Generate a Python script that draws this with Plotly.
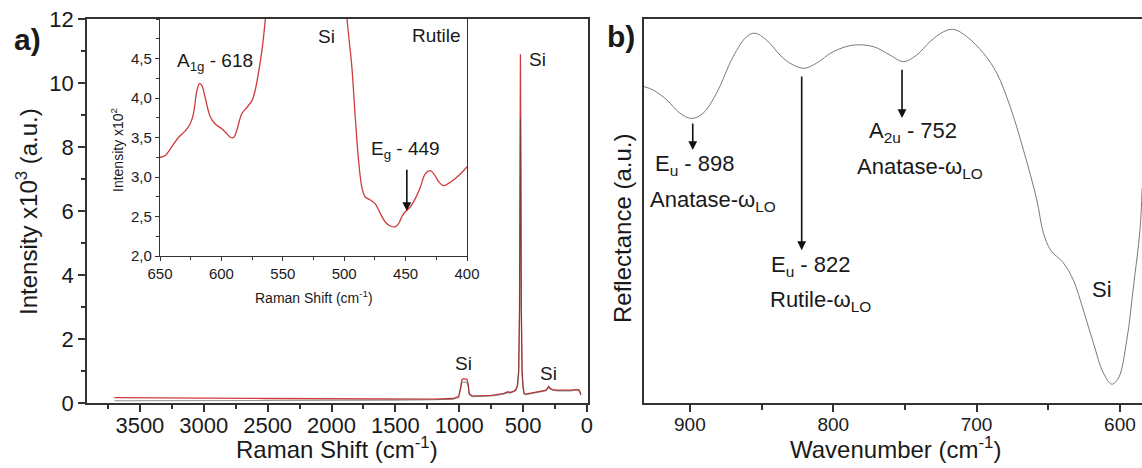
import plotly.graph_objects as go

W, H = 1142, 468
FONT = "Liberation Sans, Arial, sans-serif"
INK = "#1a1a1a"
AXIS = "#333333"

# ---------------- (a) Raman spectrum, full range ----------------
raman_shift = [3700, 3500, 3000, 2500, 2000, 1500, 1200, 1050, 1005, 990, 980, 965, 950, 940,
               930, 922, 900, 850, 750, 700, 650, 620, 600, 580, 560, 545, 535, 528, 524, 521,
               518, 514, 508, 500, 492, 480, 450, 400, 350, 320, 310, 300, 290, 270, 230, 180,
               130, 90, 65, 55, 48]
raman_red = [0.17, 0.16, 0.15, 0.14, 0.13, 0.12, 0.12, 0.14, 0.20, 0.45, 0.72, 0.76, 0.76, 0.74,
             0.60, 0.30, 0.23, 0.22, 0.24, 0.26, 0.30, 0.35, 0.33, 0.36, 0.40, 0.55, 1.0, 3.0, 7.5, 10.9,
             8.0, 3.0, 1.0, 0.50, 0.30, 0.28, 0.30, 0.33, 0.36, 0.40, 0.46, 0.52, 0.47, 0.42, 0.40, 0.39,
             0.40, 0.42, 0.42, 0.35, 0.26]
raman_grey = [0.07, 0.07, 0.07, 0.08, 0.08, 0.09, 0.10, 0.12, 0.17, 0.40, 0.63, 0.66, 0.66, 0.64,
              0.52, 0.26, 0.20, 0.20, 0.22, 0.24, 0.28, 0.33, 0.31, 0.34, 0.38, 0.50, 0.9, 2.6, 6.5, 8.9,
              7.0, 2.6, 0.9, 0.45, 0.28, 0.26, 0.28, 0.31, 0.34, 0.38, 0.44, 0.48, 0.44, 0.40, 0.38, 0.37,
              0.38, 0.40, 0.40, 0.33, 0.24]

# ---------------- inset: zoom 650-400 cm-1 (x10^2) ----------------
inset_shift = [650, 646, 640.5, 635, 629.6, 625.5, 622.8, 620, 618, 616, 613.3, 609, 605, 599.7,
               595.7, 592.4, 590, 587.5, 583.4, 579.3, 575, 572.6, 570, 567, 564.4, 560, 540, 521,
               505, 497.8, 496.5, 493.75, 491, 488.3, 485.6, 483, 478.8, 474.7, 470.6, 466.6, 462.5,
               458.4, 455.7, 453, 450.3, 446.2, 442, 438, 434, 430, 427, 423, 419, 415, 409.5, 404, 400]
inset_int = [3.25, 3.27, 3.38, 3.50, 3.58, 3.67, 3.80, 4.09, 4.18, 4.16, 4.01, 3.76, 3.67, 3.61,
             3.55, 3.50, 3.50, 3.59, 3.80, 3.88, 3.97, 4.09, 4.30, 4.60, 4.97, 5.8, 12.0, 108.0,
             9.0, 5.03, 4.81, 4.39, 3.76, 3.21, 2.87, 2.75, 2.71, 2.66, 2.54, 2.43, 2.38,
             2.37, 2.41, 2.50, 2.56, 2.62, 2.73, 2.87, 3.04, 3.08, 3.04, 2.94, 2.89, 2.92, 2.98, 3.06, 3.13]
inset_yticks = [2.0, 2.5, 3.0, 3.5, 4.0, 4.5]
inset_yticktext = ["2,0", "2,5", "3,0", "3,5", "4,0", "4,5"]

# ---------------- (b) IR reflectance ----------------
wavenumber = [932, 925.6, 916, 907, 898.8, 890.7, 881.4, 869.8, 860.4, 854.6, 846.5, 834.9, 825.5,
              819.7, 811.6, 800, 786, 772, 760.4, 751, 741.8, 732.5, 723, 716, 706.8, 695.2, 685.9,
              676.6, 667.3, 658, 653.4, 648.3, 639.5, 632.5, 625.5, 618.5, 611.5, 605.7, 601, 595.2,
              590.6, 586, 584.5]
reflectance = [0.824, 0.815, 0.789, 0.755, 0.741, 0.755, 0.807, 0.902, 0.954, 0.963, 0.945, 0.898,
               0.876, 0.872, 0.885, 0.915, 0.932, 0.928, 0.906, 0.889, 0.906, 0.941, 0.967, 0.973,
               0.954, 0.911, 0.859, 0.772, 0.659, 0.529, 0.443, 0.398, 0.365, 0.320, 0.242, 0.156,
               0.078, 0.049, 0.065, 0.164, 0.302, 0.451, 0.56]


def px(x):
    return x / W


def py(y):
    return 1 - y / H


fig = go.Figure()
fig.add_trace(go.Scatter(x=raman_shift, y=raman_red, mode="lines",
                         line=dict(color="#cf3b3b", width=1.3), xaxis="x", yaxis="y"))
fig.add_trace(go.Scatter(x=raman_shift, y=raman_grey, mode="lines",
                         line=dict(color="rgba(70,60,60,0.55)", width=1.1), xaxis="x", yaxis="y"))
fig.add_trace(go.Scatter(x=inset_shift, y=inset_int, mode="lines", line_shape="spline",
                         line=dict(color="#cf3b3b", width=1.3), xaxis="x2", yaxis="y2"))
fig.add_trace(go.Scatter(x=wavenumber, y=reflectance, mode="lines", line_shape="spline",
                         line=dict(color="#7a7a7a", width=1.0), xaxis="x3", yaxis="y3"))

axis_common = dict(showline=True, linecolor=AXIS, linewidth=1.5, showgrid=False, zeroline=False,
                   ticks="outside", tickcolor=AXIS, tickwidth=1.5, automargin=False,
                   tickfont=dict(family=FONT, color=INK))

ya_dom = [py(403), py(19)]
fig.update_layout(
    width=W, height=H, margin=dict(l=0, r=0, t=0, b=0, pad=0, autoexpand=False),
    paper_bgcolor="white", plot_bgcolor="rgba(0,0,0,0)", showlegend=False,
    xaxis=dict(axis_common, domain=[px(87), px(588)], range=[3914, -8], anchor="y",
               mirror=True, tickvals=[0, 500, 1000, 1500, 2000, 2500, 3000, 3500], ticklen=7,
               ticklabelstandoff=-5,
               tickfont=dict(family=FONT, color=INK, size=22),
               minor=dict(dtick=250, ticklen=4, ticks="outside", tickcolor=AXIS, tickwidth=1.5)),
    yaxis=dict(axis_common, domain=ya_dom, range=[0, 12], anchor="x", mirror=True,
               tickvals=[0, 2, 4, 6, 8, 10, 12], ticklen=7,
               tickfont=dict(family=FONT, color=INK, size=22),
               minor=dict(dtick=1, ticklen=4, ticks="outside", tickcolor=AXIS, tickwidth=1.5)),
    xaxis2=dict(axis_common, domain=[px(160), px(467)], range=[650, 400], anchor="y2",
                mirror=True, linewidth=1.2, tickwidth=1.2, dtick=50, ticklen=4,
                tickfont=dict(family=FONT, color=INK, size=15),
                minor=dict(dtick=25, ticklen=3, ticks="outside", tickcolor=AXIS, tickwidth=1.2)),
    yaxis2=dict(axis_common, domain=[py(256), py(19)], range=[2.0, 5.0], anchor="x2",
                mirror=True, linewidth=1.2, tickwidth=1.2, tickvals=inset_yticks,
                ticktext=inset_yticktext, ticklen=4,
                tickfont=dict(family=FONT, color=INK, size=15),
                minor=dict(dtick=0.25, ticklen=3, ticks="outside", tickcolor=AXIS, tickwidth=1.2)),
    xaxis3=dict(axis_common, domain=[px(644), 1.0], range=[932, 584.6], anchor="y3",
                mirror=True, tickvals=[600, 700, 800, 900], ticklen=7, ticklabelstandoff=-4,
                tickfont=dict(family=FONT, color=INK, size=19),
                minor=dict(dtick=50, ticklen=5, ticks="outside", tickcolor=AXIS, tickwidth=1.5)),
    yaxis3=dict(showline=True, linecolor=AXIS, linewidth=1.5, showgrid=False, zeroline=False,
                domain=ya_dom, range=[0, 1], anchor="x3", ticks="", showticklabels=False,
                automargin=False),
)


def label(text, x, y, size, anchor="center", angle=0, bold=False):
    fig.add_annotation(text=f"<b>{text}</b>" if bold else text, x=px(x), y=py(y),
                       xref="paper", yref="paper", showarrow=False, xanchor=anchor,
                       yanchor="middle", textangle=angle,
                       font=dict(family=FONT, size=size, color=INK))


def arrow(xref, yref, x, y_tail, y_head):
    fig.add_annotation(text="", x=x, y=y_head, ax=x, ay=y_tail, xref=xref, yref=yref,
                       axref=xref, ayref=yref, showarrow=True, arrowhead=2, arrowsize=1.1,
                       arrowwidth=1.6, arrowcolor="#111111")


# panel letters
label("a)", 27, 39, 30, bold=True)
label("b)", 621, 37, 30, bold=True)

# axis titles
label("Intensity x10<sup>3</sup> (a.u.)", 27, 212, 24, angle=-90)
label("Raman Shift (cm<sup>-1</sup>)", 337, 448, 24)
label("Intensity x10<sup>2</sup>", 117, 150, 14, angle=-90)
label("Raman Shift (cm<sup>-1</sup>)", 314, 297, 14)
label("Reflectance (a.u.)", 622, 229, 24, angle=-90)
label("Wavenumber (cm<sup>-1</sup>)", 895, 448, 24)

# (a) peak labels
label("Si", 537, 60, 19)
label("Si", 463, 363, 19)
label("Si", 548, 373, 19)
label("Si", 326, 37, 19)
label("Rutile", 436, 36, 19)
label("A<sub>1g</sub> - 618", 175, 62, 19, anchor="left")
label("E<sub>g</sub> - 449", 369, 150, 19, anchor="left")
arrow("x2", "y2", 449, 3.11, 2.57)

# (b) band labels
label("E<sub>u</sub> - 898", 653, 165, 22, anchor="left")
label("Anatase-ω<sub>LO</sub>", 648, 201, 22, anchor="left")
label("E<sub>u</sub> - 822", 769, 266, 22, anchor="left")
label("Rutile-ω<sub>LO</sub>", 768, 301, 22, anchor="left")
label("A<sub>2u</sub> - 752", 867, 132, 22, anchor="left")
label("Anatase-ω<sub>LO</sub>", 855, 168, 22, anchor="left")
label("Si", 1102, 289, 22)
arrow("x3", "y3", 898, 0.732, 0.659)
arrow("x3", "y3", 822, 0.854, 0.398)
arrow("x3", "y3", 752, 0.872, 0.742)

fig.write_html("out.html")
